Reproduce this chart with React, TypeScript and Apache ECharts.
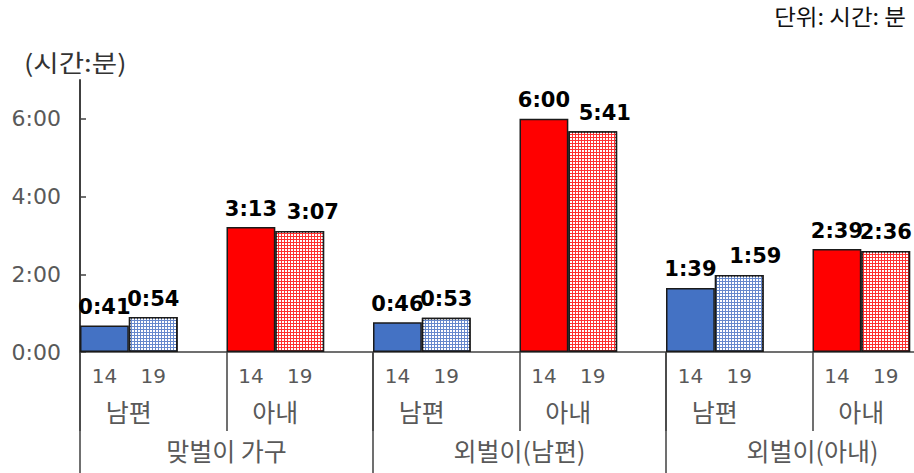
import React, { useEffect, useRef } from "react";
import * as echarts from "echarts";

// Household types, spouse roles and survey years
const householdTypes = ["맞벌이 가구", "외벌이(남편)", "외벌이(아내)"];
const roles = ["남편", "아내", "남편", "아내", "남편", "아내"];
const years = ["14", "19"];

// Time spent (minutes) per role, 2014 and 2019
const minutes2014 = [41, 193, 46, 360, 99, 159];
const minutes2019 = [54, 187, 53, 341, 119, 156];

// Horizontal nudge for the 2019 value labels (keeps them clear of the 2014 ones)
const label2019Shift = [0, 13, 0, 12, 16, 0];

// Y axis ticks in minutes
const yTicks = [0, 120, 240, 360];
const yMax = 420;

const BLUE = "#4472C4";
const BLUE_LINES = "#6688cc";
const RED = "#FF0000";
const RED_LINES = "#ff3030";
const AXIS = "#404040";
const NUM_FONT = "DejaVu Sans";
const KR_FONT = "Noto Sans CJK KR";

// The plot runs past the right edge of the visible frame; the last group is cut off.
const FRAME_W = 914;
const FRAME_H = 473;
const CHART_W = 960;

const toHM = (m: number) => `${Math.floor(m / 60)}:${String(m % 60).padStart(2, "0")}`;

export default function App() {
  const ref = useRef<HTMLDivElement>(null);

  useEffect(() => {
    if (!ref.current) return;
    const chart = echarts.init(ref.current, undefined, { renderer: "svg" });

    // Each role occupies three slots: 2014 bar, 2019 bar, empty gap
    const slotLabels: string[] = [];
    const barData: any[] = [];
    roles.forEach((role, i) => {
      const isHusband = i % 2 === 0;
      slotLabels.push(years[0], years[1], "");
      barData.push({
        value: minutes2014[i],
        itemStyle: { color: isHusband ? BLUE : RED },
      });
      barData.push({
        value: minutes2019[i],
        label: { offset: [label2019Shift[i], 0] },
        itemStyle: {
          color: isHusband ? BLUE_LINES : RED_LINES,
          decal: {
            symbol: "rect",
            symbolSize: 1,
            color: "#ffffff",
            dashArrayX: [2, 1],
            dashArrayY: [2, 1],
            rotation: 0,
          },
        },
      });
      barData.push("-");
    });

    chart.setOption({
      animation: false,
      grid: { left: 80, top: 80, bottom: 121, right: 1, containLabel: false },
      graphic: [
        {
          type: "text",
          x: 24,
          y: 49,
          scaleX: 1.15,
          style: { text: "(시간:분)", font: `24px "${KR_FONT}"`, fill: "#333333" },
        },
        {
          type: "text",
          x: 906,
          y: 5,
          scaleX: 1.07,
          style: {
            text: "단위: 시간: 분",
            font: `22px "${KR_FONT}"`,
            fill: "#111111",
            align: "right",
          },
        },
      ],
      xAxis: [
        {
          type: "category",
          position: "bottom",
          data: slotLabels,
          axisLine: { show: true, lineStyle: { color: AXIS, width: 1.5 } },
          axisTick: { show: false },
          axisLabel: {
            interval: 0,
            margin: 14,
            color: "#595959",
            fontFamily: NUM_FONT,
            fontSize: 20,
          },
        },
        {
          type: "category",
          position: "bottom",
          data: roles,
          axisLine: { show: false },
          axisTick: { show: true, interval: 0, length: 79, lineStyle: { color: AXIS, width: 1.5 } },
          axisLabel: {
            interval: 0,
            margin: 46,
            color: "#595959",
            fontFamily: KR_FONT,
            fontSize: 25,
            padding: [0, 49, 0, 0],
          },
        },
        {
          type: "category",
          position: "bottom",
          data: householdTypes,
          axisLine: { show: false },
          axisTick: { show: true, interval: 0, length: 130, lineStyle: { color: AXIS, width: 1.5 } },
          axisLabel: {
            interval: 0,
            margin: 85,
            color: "#595959",
            fontFamily: KR_FONT,
            fontSize: 25,
          },
        },
      ],
      yAxis: {
        type: "value",
        min: 0,
        max: yMax,
        splitLine: { show: false },
        axisLine: { show: true, lineStyle: { color: AXIS, width: 2 } },
        axisTick: { show: true, inside: true, length: 6, customValues: yTicks, lineStyle: { color: AXIS, width: 1.5 } },
        axisLabel: {
          customValues: yTicks,
          formatter: (v: number) => toHM(v),
          margin: 19,
          color: "#595959",
          fontFamily: NUM_FONT,
          fontSize: 22,
        },
      },
      series: [
        {
          type: "bar",
          xAxisIndex: 0,
          data: barData,
          barCategoryGap: "0%",
          itemStyle: { borderColor: "#1a1a1a", borderWidth: 1.5 },
          label: {
            show: true,
            position: "top",
            distance: 8,
            color: "#000000",
            fontFamily: NUM_FONT,
            fontWeight: "bold",
            fontSize: 21,
            formatter: (p: any) => toHM(p.value),
          },
        },
      ],
    });

    return () => chart.dispose();
  }, []);

  return (
    <div
      style={{
        position: "absolute",
        left: 0,
        top: 0,
        width: FRAME_W,
        height: FRAME_H,
        overflow: "hidden",
        background: "#ffffff",
      }}
    >
      <div ref={ref} style={{ width: CHART_W, height: FRAME_H }} />
    </div>
  );
}
